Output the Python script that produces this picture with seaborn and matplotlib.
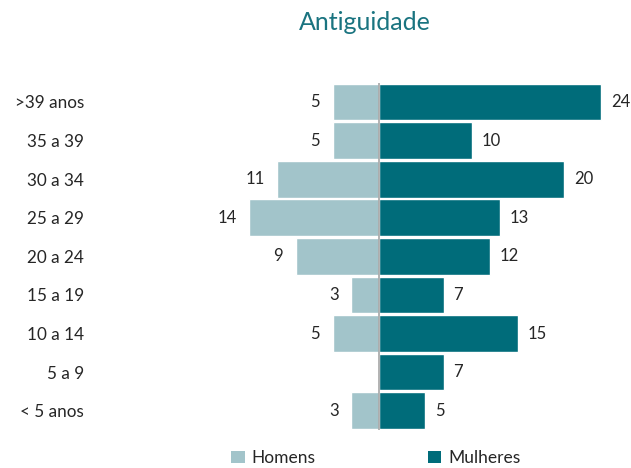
import matplotlib
matplotlib.use("Agg")
import matplotlib.pyplot as plt
import seaborn as sns
import numpy as np
from matplotlib.patches import Patch

# Tempo de casa por faixa, separado por sexo
faixas = [">39 anos", "35 a 39", "30 a 34", "25 a 29", "20 a 24",
          "15 a 19", "10 a 14", "5 a 9", "< 5 anos"]
homens = [5, 5, 11, 14, 9, 3, 5, 0, 3]
mulheres = [24, 10, 20, 13, 12, 7, 15, 7, 5]

cor_homens = "#A2C4CA"
cor_mulheres = "#006C7A"
cor_titulo = "#1A7480"
cor_texto = "#262626"

sns.set_theme(style="white")
plt.rcParams["font.family"] = ["Lato", "DejaVu Sans"]

W, H = 631, 468
fig = plt.figure(figsize=(W / 100, H / 100), dpi=100)

# eixo: zero em x=379 px, ~9.27 px por unidade
x0, ppu = 379, 9.27
L, R = 95, 629
top, bottom = 82.7, 430.0
ax = fig.add_axes([L / W, 1 - bottom / H, (R - L) / W, (bottom - top) / H])

sns.barplot(x=[-v for v in homens], y=faixas, color=cor_homens, width=0.95,
            orient="h", ax=ax, edgecolor="white", linewidth=1.0, saturation=1)
sns.barplot(x=mulheres, y=faixas, color=cor_mulheres, width=0.95,
            orient="h", ax=ax, edgecolor="white", linewidth=1.0, saturation=1)

ax.set_xlim((L - x0) / ppu, (R - x0) / ppu)
ax.set_ylim(8.5, -0.5)

ax.bar_label(ax.containers[0], labels=[str(v) if v > 0 else "" for v in homens],
             padding=9, fontsize=12, color=cor_texto)
ax.bar_label(ax.containers[1], labels=[str(v) for v in mulheres],
             padding=7, fontsize=12, color=cor_texto)

ax.axvline(0, color="#A6A6A6", linewidth=1.2, zorder=5)

for s in ax.spines.values():
    s.set_visible(False)
ax.set_xticks([])
ax.set_xlabel("")
ax.set_ylabel("")
ax.tick_params(axis="y", length=0, pad=8, labelsize=12.3, labelcolor=cor_texto)

fig.text(365 / W, 1 - 22 / H, "Antiguidade", ha="center", va="center",
         fontsize=18, color=cor_titulo)

handles = [Patch(facecolor=cor_homens, edgecolor="none", label="Homens"),
           Patch(facecolor=cor_mulheres, edgecolor="none", label="Mulheres")]
fig.legend(handles=handles, loc="center", bbox_to_anchor=(376 / W, 1 - 458 / H),
           ncol=2, frameon=False, fontsize=12.5, handlelength=0.75, handleheight=0.75,
           handletextpad=0.4, columnspacing=6.5, labelcolor=cor_texto)

fig.savefig("out.png", dpi=100, facecolor="white")
